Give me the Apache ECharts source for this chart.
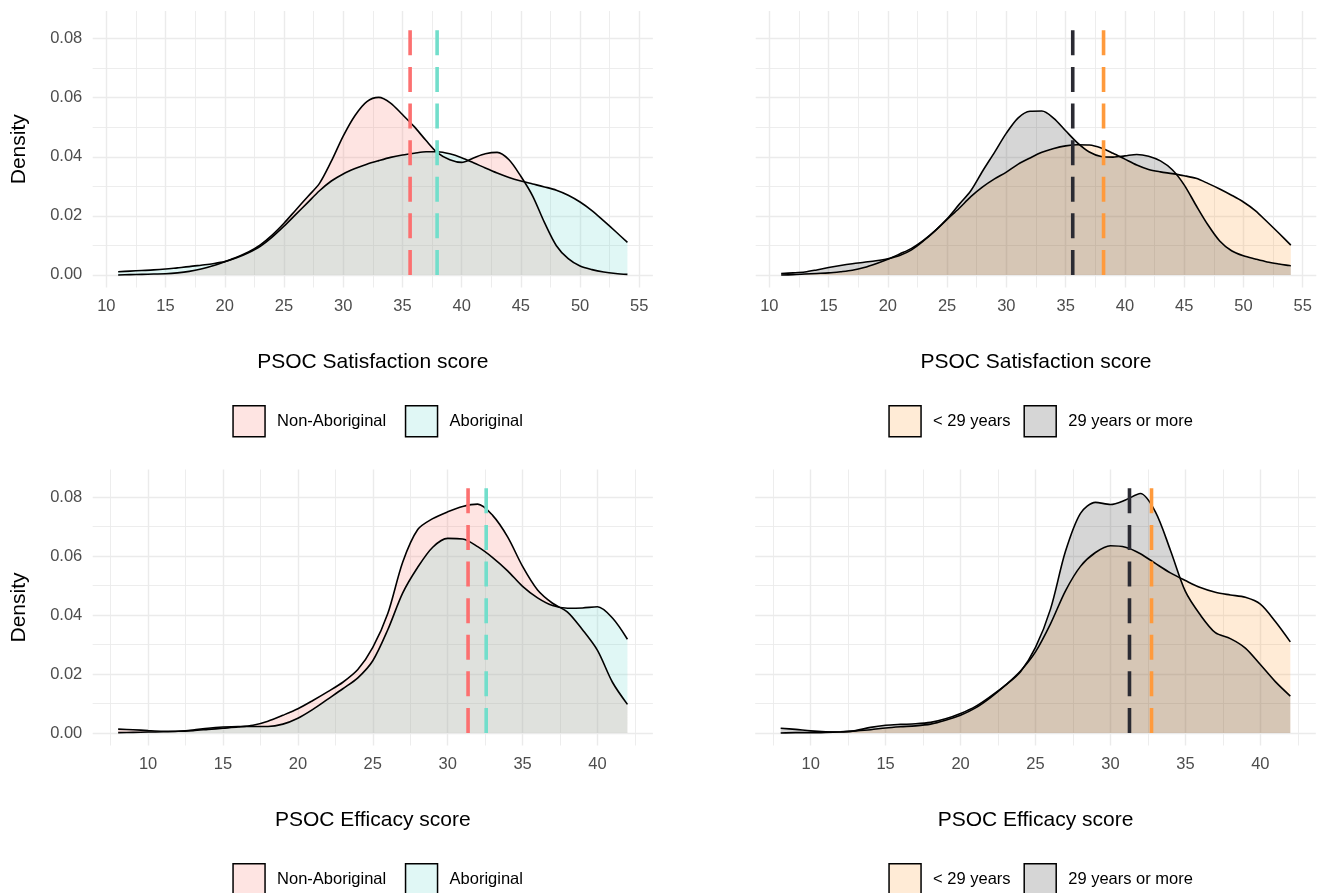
<!DOCTYPE html>
<html><head><meta charset="utf-8">
<script src="https://cdn.jsdelivr.net/npm/echarts@6/dist/echarts.min.js"></script>
<style>html,body{margin:0;padding:0;background:#fff}#c{width:1323px;height:893px}</style>
</head><body><div id="c"></div>
<script>
// ---------- data ----------
const satX = [11,12,13,14,15,16,17,18,19,20,21,22,23,24,25,26,27,28,29,30,31,32,33,34,35,36,37,38,39,40,41,42,43,44,45,46,47,48,49,50,51,52,53,54];
const satNonAboriginal = [0.0000,0.0001,0.0002,0.0003,0.0004,0.0007,0.0012,0.0020,0.0031,0.0045,0.0060,0.0078,0.0102,0.0135,0.0175,0.0220,0.0265,0.0310,0.0385,0.0470,0.0540,0.0587,0.0601,0.0582,0.0543,0.0502,0.0455,0.0412,0.0390,0.0381,0.0396,0.0410,0.0415,0.0390,0.0334,0.0267,0.0177,0.0099,0.0055,0.0030,0.0018,0.0010,0.0005,0.0002];
const satAboriginal = [0.0011,0.0013,0.0015,0.0017,0.0020,0.0024,0.0028,0.0033,0.0038,0.0045,0.0058,0.0075,0.0097,0.0128,0.0165,0.0205,0.0245,0.0285,0.0318,0.0342,0.0360,0.0375,0.0387,0.0398,0.0406,0.0412,0.0417,0.0417,0.0410,0.0397,0.0380,0.0362,0.0345,0.0330,0.0318,0.0308,0.0298,0.0287,0.0270,0.0247,0.0218,0.0183,0.0147,0.0110];
const satUnder29 = [0.0000,0.0001,0.0003,0.0005,0.0007,0.0011,0.0016,0.0025,0.0038,0.0053,0.0071,0.0090,0.0117,0.0150,0.0188,0.0225,0.0265,0.0298,0.0325,0.0348,0.0375,0.0396,0.0415,0.0428,0.0437,0.0441,0.0440,0.0430,0.0412,0.0392,0.0372,0.0357,0.0349,0.0343,0.0336,0.0327,0.0310,0.0291,0.0270,0.0247,0.0218,0.0180,0.0141,0.0101];
const sat29More = [0.0005,0.0007,0.0010,0.0017,0.0025,0.0032,0.0038,0.0043,0.0048,0.0055,0.0066,0.0085,0.0115,0.0150,0.0190,0.0238,0.0285,0.0352,0.0415,0.0480,0.0532,0.0554,0.0555,0.0530,0.0488,0.0447,0.0416,0.0401,0.0399,0.0403,0.0408,0.0402,0.0386,0.0356,0.0305,0.0236,0.0170,0.0115,0.0082,0.0065,0.0054,0.0044,0.0037,0.0031];

const effX = [8,9,10,11,12,13,14,15,16,17,18,19,20,21,22,23,24,25,26,27,28,29,30,31,32,33,34,35,36,37,38,39,40,41,42];
const effNonAboriginal = [0.0013,0.0011,0.0008,0.0006,0.0006,0.0008,0.0012,0.0016,0.0020,0.0026,0.0040,0.0060,0.0082,0.0110,0.0140,0.0172,0.0215,0.0290,0.0405,0.0580,0.0690,0.0727,0.0750,0.0768,0.0776,0.0738,0.0665,0.0565,0.0485,0.0440,0.0410,0.0350,0.0280,0.0172,0.0097];
const effAboriginal = [0.0001,0.0002,0.0003,0.0004,0.0006,0.0010,0.0016,0.0020,0.0022,0.0022,0.0022,0.0030,0.0050,0.0080,0.0115,0.0150,0.0187,0.0245,0.0350,0.0475,0.0562,0.0630,0.0660,0.0658,0.0632,0.0595,0.0550,0.0497,0.0458,0.0432,0.0423,0.0424,0.0428,0.0390,0.0318];
const effUnder29 = [0.0000,0.0001,0.0001,0.0002,0.0004,0.0007,0.0011,0.0017,0.0021,0.0024,0.0030,0.0043,0.0060,0.0085,0.0120,0.0162,0.0210,0.0275,0.0370,0.0482,0.0565,0.0612,0.0635,0.0630,0.0608,0.0575,0.0543,0.0517,0.0493,0.0477,0.0468,0.0460,0.0437,0.0378,0.0309];
const eff29More = [0.0016,0.0012,0.0007,0.0004,0.0003,0.0008,0.0019,0.0026,0.0029,0.0031,0.0036,0.0048,0.0066,0.0090,0.0124,0.0162,0.0208,0.0290,0.0420,0.0616,0.0745,0.0782,0.0775,0.0790,0.0812,0.0750,0.0620,0.0480,0.0400,0.0340,0.0320,0.0288,0.0232,0.0174,0.0125];

// group means (dashed lines)
const satMeans = { nonAboriginal: 35.65, aboriginal: 37.93, under29: 38.2, more29: 35.6 };
const effMeans = { nonAboriginal: 31.36, aboriginal: 32.57, under29: 32.74, more29: 31.27 };
const meanLineTop = 0.0851;

const satTicks = [10,15,20,25,30,35,40,45,50,55];
const effTicks = [10,15,20,25,30,35,40];
const densityTicks = [0.00,0.02,0.04,0.06,0.08];

const titles = { sat: 'PSOC Satisfaction score', eff: 'PSOC Efficacy score', y: 'Density' };
const groupNames = { a1: 'Non-Aboriginal', a2: 'Aboriginal', b1: '< 29 years', b2: '29 years or more' };

// ---------- styles ----------
const FONT = "'Liberation Sans', Arial, Helvetica, sans-serif";
const C = {
  red: '#F8766D', teal: '#64D7CD', orange: '#FF9933', dark: '#333333',
  redLine: '#FC7070', tealLine: '#72DECB', orangeLine: '#FF9A3C', darkLine: '#2B2B33',
  redKey: '#FEE4E2', tealKey: '#E0F7F5', orangeKey: '#FFEBD6', darkKey: '#D6D6D6'
};
const GRID = '#EBEBEB';

const grids = [
  { left: 92.7, top: 11, width: 560.2, height: 276.5 },
  { left: 755.7, top: 11, width: 560.6, height: 276.5 },
  { left: 92.7, top: 469.5, width: 560.2, height: 276 },
  { left: 755.2, top: 469.5, width: 560.6, height: 276 }
];

function xAxis(gi, min, max, splitNumber, name) {
  return {
    type: 'value', gridIndex: gi, min, max, splitNumber,
    name, nameLocation: 'middle', nameGap: 74.5,
    nameTextStyle: { fontFamily: FONT, fontSize: 21, color: '#000', verticalAlign: 'middle' },
    axisLine: { show: false }, axisTick: { show: false },
    axisLabel: { show: true, margin: 10.5, fontFamily: FONT, fontSize: 16.5, color: '#4D4D4D', showMinLabel: false, showMaxLabel: false },
    splitLine: { show: true, showMinLine: false, showMaxLine: false, lineStyle: { color: GRID, width: 1.4 } },
    minorTick: { show: false, splitNumber: 2 },
    minorSplitLine: { show: true, lineStyle: { color: GRID, width: 0.9 } }
  };
}
function yAxis(gi, showLabels) {
  return {
    type: 'value', gridIndex: gi, min: -0.004255, max: 0.08936, splitNumber: 5,
    name: showLabels ? titles.y : '', nameLocation: 'middle', nameGap: 73.7,
    nameTextStyle: { fontFamily: FONT, fontSize: 21, color: '#000', verticalAlign: 'middle' },
    axisLine: { show: false }, axisTick: { show: false },
    axisLabel: { show: showLabels, margin: 10.4, fontFamily: FONT, fontSize: 16.5, color: '#4D4D4D', showMinLabel: false, showMaxLabel: false,
      formatter: v => v.toFixed(2) },
    splitLine: { show: true, showMinLine: false, showMaxLine: false, lineStyle: { color: GRID, width: 1.4 } },
    minorTick: { show: false, splitNumber: 2 },
    minorSplitLine: { show: true, lineStyle: { color: GRID, width: 0.9 } }
  };
}
function area(name, xs, ys, color, gi) {
  return {
    type: 'line', name, xAxisIndex: gi, yAxisIndex: gi,
    data: xs.map((x, i) => [x, ys[i]]),
    symbol: 'none', showSymbol: false, smooth: 0.3,
    lineStyle: { color: '#000', width: 1.6 },
    itemStyle: { color },
    areaStyle: { color, opacity: 0.2 },
    emphasis: { disabled: true }, silent: true, z: 2
  };
}
function meanLine(name, x, color, gi) {
  return {
    type: 'line', name, xAxisIndex: gi, yAxisIndex: gi,
    data: [[x, 0], [x, meanLineTop]],
    symbol: 'none', showSymbol: false,
    lineStyle: { color, width: 3.6, type: [25, 11.6], cap: 'butt' },
    emphasis: { disabled: true }, silent: true, z: 5
  };
}
function legend(left, top, gap, items) {
  return {
    left, top, padding: 0, orient: 'horizontal', itemWidth: 32, itemHeight: 31, itemGap: gap,
    icon: 'rect', selectedMode: false,
    textStyle: { fontFamily: FONT, fontSize: 16.5, color: '#000', padding: [0, 0, 0, 7] },
    data: items.map(([name, fill]) => ({ name, itemStyle: { color: fill, borderColor: '#000', borderWidth: 1.5 } }))
  };
}

const option = {
  animation: false,
  backgroundColor: '#fff',
  grid: grids.map(g => Object.assign({ containLabel: false, outerBoundsMode: 'none' }, g)),
  xAxis: [
    xAxis(0, 8.85, 56.15, 9, titles.sat),
    xAxis(1, 8.85, 56.15, 9, titles.sat),
    xAxis(2, 6.3, 43.7, 7, titles.eff),
    xAxis(3, 6.3, 43.7, 7, titles.eff)
  ],
  yAxis: [yAxis(0, true), yAxis(1, false), yAxis(2, true), yAxis(3, false)],
  legend: [
    legend(232.3, 405, 18.6, [[groupNames.a1, C.redKey], [groupNames.a2, C.tealKey]]),
    legend(888.3, 405, 12.9, [[groupNames.b1, C.orangeKey], [groupNames.b2, C.darkKey]]),
    legend(232.3, 863, 18.6, [[groupNames.a1, C.redKey], [groupNames.a2, C.tealKey]]),
    legend(888.3, 863, 12.9, [[groupNames.b1, C.orangeKey], [groupNames.b2, C.darkKey]])
  ],
  series: [
    area(groupNames.a1, satX, satNonAboriginal, C.red, 0),
    area(groupNames.a2, satX, satAboriginal, C.teal, 0),
    meanLine('m1', satMeans.nonAboriginal, C.redLine, 0),
    meanLine('m2', satMeans.aboriginal, C.tealLine, 0),

    area(groupNames.b1, satX, satUnder29, C.orange, 1),
    area(groupNames.b2, satX, sat29More, C.dark, 1),
    meanLine('m3', satMeans.under29, C.orangeLine, 1),
    meanLine('m4', satMeans.more29, C.darkLine, 1),

    area(groupNames.a1, effX, effNonAboriginal, C.red, 2),
    area(groupNames.a2, effX, effAboriginal, C.teal, 2),
    meanLine('m5', effMeans.nonAboriginal, C.redLine, 2),
    meanLine('m6', effMeans.aboriginal, C.tealLine, 2),

    area(groupNames.b1, effX, effUnder29, C.orange, 3),
    area(groupNames.b2, effX, eff29More, C.dark, 3),
    meanLine('m7', effMeans.under29, C.orangeLine, 3),
    meanLine('m8', effMeans.more29, C.darkLine, 3)
  ]
};
const chart = echarts.init(document.getElementById('c'), null, { renderer: 'canvas' });
chart.setOption(option);
</script>
</body></html>
